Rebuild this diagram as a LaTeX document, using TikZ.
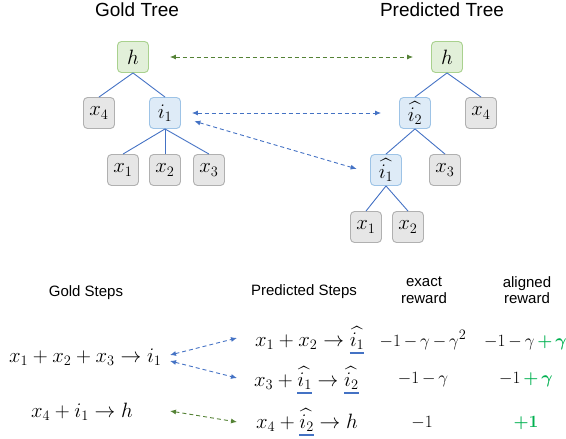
\documentclass[tikz,border=0pt]{standalone}
\usepackage{amsmath,bm}
\usepackage[no-math]{fontspec}
\setmainfont{Liberation Sans}
\usetikzlibrary{arrows.meta}
\definecolor{gfill}{HTML}{E2F0D9}
\definecolor{gborder}{HTML}{A9D18E}
\definecolor{bfill}{HTML}{DEEBF7}
\definecolor{bborder}{HTML}{9DC3E6}
\definecolor{xfill}{HTML}{E6E6E6}
\definecolor{xborder}{HTML}{B0B0B0}
\definecolor{eblue}{HTML}{4472C4}
\definecolor{dgreen}{HTML}{548235}
\definecolor{tgreen}{HTML}{00B050}
\newcommand{\bul}[1]{\vtop{\hbox{$#1$}\kern2.5pt{\color{eblue}\hrule height 2pt}}}
\newcommand{\ih}[1]{\widehat{i_{#1}}}
\newcommand{\rwdfont}{\fontsize{19}{22}\selectfont\medmuskip=3mu\relax}
\begin{document}
\begin{tikzpicture}[x=1pt,y=-1pt,
  tn/.style={rounded corners=4pt, minimum width=31pt, minimum height=31pt, line width=0.9pt, inner sep=0pt, font=\fontsize{20.5}{22}\selectfont},
  gnode/.style={tn, fill=gfill, draw=gborder},
  bnode/.style={tn, fill=bfill, draw=bborder},
  xnode/.style={tn, fill=xfill, draw=xborder},
  edge/.style={draw=eblue, line width=0.9pt},
  darr/.style={dash pattern=on 4pt off 3pt, line width=0.9pt, {Latex[length=6pt,width=5pt]}-{Latex[length=6pt,width=5pt]}},
  title/.style={font=\fontsize{19}{22}\selectfont},
  head/.style={font=\fontsize{15}{16.5}\selectfont, align=center},
  mth/.style={font=\fontsize{21}{24}\selectfont, inner sep=0pt},
  rwd/.style={font=\rwdfont, inner sep=0pt}
]
\useasboundingbox (0,0) rectangle (566,439);
% titles
\node[title] (tg) at (137,10) {Gold Tree};
\node[title] (tp) at (442,10) {Predicted Tree};
% gold tree
\node[gnode] (gh) at (133,57) {$h$};
\node[xnode] (gx4) at (99,113) {$x_4$};
\node[bnode] (gi1) at (165,113) {$i_1$};
\node[xnode] (gx1) at (123,170) {$x_1$};
\node[xnode] (gx2) at (165,170) {$x_2$};
\node[xnode] (gx3) at (209,170) {$x_3$};
\draw[edge] (gh.south) -- (gx4.north);
\draw[edge] (gh.south) -- (gi1.north);
\draw[edge] (gi1.south) -- (gx1.north);
\draw[edge] (gi1.south) -- (gx2.north);
\draw[edge] (gi1.south) -- (gx3.north);
% predicted tree
\node[gnode] (ph) at (447,57) {$h$};
\node[bnode] (pi2) at (415,113) {$\ih{2}$};
\node[xnode] (px4) at (481,113) {$x_4$};
\node[bnode] (pi1) at (386,170) {$\ih{1}$};
\node[xnode] (px3) at (445,170) {$x_3$};
\node[xnode] (px1) at (366,227) {$x_1$};
\node[xnode] (px2) at (408,227) {$x_2$};
\draw[edge] (ph.south) -- (pi2.north);
\draw[edge] (ph.south) -- (px4.north);
\draw[edge] (pi2.south) -- (pi1.north);
\draw[edge] (pi2.south) -- (px3.north);
\draw[edge] (pi1.south) -- (px1.north);
\draw[edge] (pi1.south) -- (px2.north);
% tree alignment arrows
\draw[darr, dgreen, shorten <=21pt, shorten >=18pt] (gh.east) -- (ph.west);
\draw[darr, eblue, shorten <=11pt, shorten >=18pt] (gi1.east) -- (pi2.west);
\draw[darr, eblue, shorten <=14pt, shorten >=14pt] (gi1.-15) -- (pi1.190);
% headers
\node[head] (hg) at (86,293) {Gold Steps};
\node[head] (hp) at (304,292) {Predicted Steps};
\node[head] (he) at (424,290) {exact\\reward};
\node[head] (ha) at (527,290) {aligned\\reward};
% gold steps
\node[mth, anchor=west] (gs1) at (9,357) {$x_1+x_2+x_3\rightarrow i_1$};
\node[mth] (gs2) at (82,412) {$x_4+i_1\rightarrow h$};
% predicted steps
\node[mth, anchor=west] (ps1) at (255,340) {$x_1+x_2\rightarrow \bul{\ih{1}}$};
\node[mth, anchor=west] (ps2) at (254,380) {$x_3+\bul{\ih{1}}\rightarrow \bul{\ih{2}}$};
\node[mth, anchor=west] (ps3) at (256,422) {$x_4+\bul{\ih{2}}\rightarrow h$};
% rewards
\node[rwd] (e1) at (423,340) {$-1-\gamma-\gamma^2$};
\node[rwd] (e2) at (423,380) {$-1-\gamma$};
\node[rwd] (e3) at (422,423) {$-1$};
\node[rwd, anchor=west] (a1) at (484,340) {$-1-\gamma\color{tgreen}\mathbin{\bm{+}}\bm{\gamma}^{\mathbf{2}}$};
\node[rwd] (a2) at (526,380) {$-1\color{tgreen}\mathbin{\bm{+}}\bm{\gamma}$};
\node[rwd, text=tgreen] (a3) at (526,423) {$\bm{+}\mathbf{1}$};
% step alignment arrows
\coordinate (g1a) at (170,355);
\coordinate (g1b) at (170,361);
\coordinate (g2a) at (170,411);
\coordinate (p1a) at (237,338);
\coordinate (p2a) at (237,378);
\coordinate (p3a) at (237,422);
\draw[darr, eblue] (g1a) -- (p1a);
\draw[darr, eblue] (g1b) -- (p2a);
\draw[darr, dgreen] (g2a) -- (p3a);
\end{tikzpicture}
\end{document}
